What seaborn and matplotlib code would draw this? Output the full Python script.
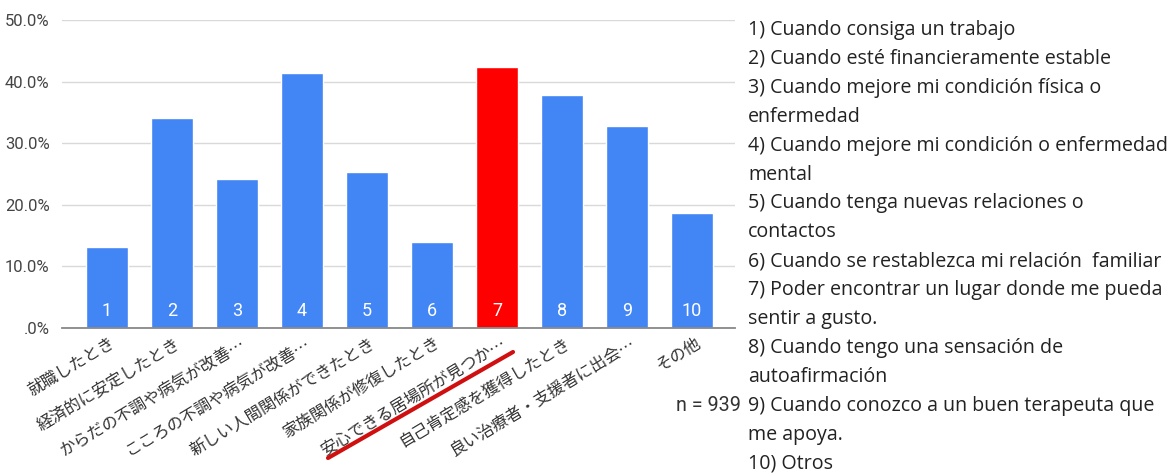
import pandas as pd
import seaborn as sns
import matplotlib.pyplot as plt
from matplotlib.lines import Line2D
from matplotlib.ticker import FuncFormatter
from matplotlib.transforms import ScaledTranslation

# Data
categories = ['就職したとき', '経済的に安定したとき', 'からだの不調や病気が改善…',
              'こころの不調や病気が改善…', '新しい人間関係ができたとき', '家族関係が修復したとき',
              '安心できる居場所が見つか…', '自己肯定感を獲得したとき', '良い治療者・支援者に出会…',
              'その他']
numbers = ['1', '2', '3', '4', '5', '6', '7', '8', '9', '10']
values = [13.1, 34.1, 24.2, 41.4, 25.3, 14.0, 42.4, 37.8, 32.8, 18.7]
highlight = '7'

notes = [
    '1) Cuando consiga un trabajo',
    '2) Cuando esté financieramente estable',
    '3) Cuando mejore mi condición física o',
    'enfermedad',
    '4) Cuando mejore mi condición o enfermedad',
    'mental',
    '5) Cuando tenga nuevas relaciones o',
    'contactos',
    '6) Cuando se restablezca mi relación  familiar',
    '7) Poder encontrar un lugar donde me pueda',
    'sentir a gusto.',
    '8) Cuando tengo una sensación de',
    'autoafirmación',
    '9) Cuando conozco a un buen terapeuta que',
    'me apoya.',
    '10) Otros',
]
n_label = 'n = 939'

df = pd.DataFrame({'num': numbers, 'label': categories, 'value': values})
palette = {k: ('#ff0000' if k == highlight else '#4285f4') for k in numbers}

sns.set_theme(style='white')
plt.rcParams['font.family'] = ['Noto Sans CJK JP', 'DejaVu Sans']

W, H = 1171, 476
fig = plt.figure(figsize=(W / 100, H / 100), dpi=100)
ax = fig.add_axes([62 / W, (H - 328) / H, (735 - 62) / W, (328 - 20) / H])

sns.barplot(data=df, x='num', y='value', hue='num', palette=palette,
            width=0.65, legend=False, ax=ax, saturation=1)

ax.set_ylim(0, 50)
ax.set_xlim(-0.69, 9.66)
ax.set_yticks([0, 10, 20, 30, 40, 50])
ax.yaxis.set_major_formatter(FuncFormatter(lambda v, p: '.0%' if v == 0 else f'{v:.1f}%'))
ax.grid(axis='y', color='#d9d9d9', linewidth=1)
ax.set_axisbelow(True)
for s in ['top', 'right', 'left']:
    ax.spines[s].set_visible(False)
ax.spines['bottom'].set_color('#888888')
ax.spines['bottom'].set_linewidth(1.3)
ax.set_xlabel('')
ax.set_ylabel('')

ax.tick_params(axis='y', length=0, pad=9, labelsize=12, labelcolor='#444444')
for t in ax.get_yticklabels():
    t.set_family(['Roboto', 'DejaVu Sans'])

ax.set_xticks(range(len(categories)))
ax.set_xticklabels(categories, rotation=31, ha='right', va='center',
                   rotation_mode='anchor', fontsize=11.8, color='#333333')
ax.tick_params(axis='x', length=0, pad=10)
shift = ScaledTranslation(7 / 100, 0, fig.dpi_scale_trans)
for t in ax.get_xticklabels():
    t.set_transform(t.get_transform() + shift)

# numbers inside the bars
for i, n in enumerate(numbers):
    ax.text(i, 1.3, n, ha='center', va='bottom', color='white',
            fontsize=13, family=['Roboto', 'DejaVu Sans'])

# red underline drawn under the highlighted label
fig.add_artist(Line2D([328 / W, 513 / W], [1 - 458 / H, 1 - 352 / H],
                      color='#d01010', linewidth=3, solid_capstyle='round'))

# side notes
y0, step = 30, 28.9
for k, line in enumerate(notes):
    fig.text(748 / W, 1 - (y0 + k * step) / H, line, ha='left', va='center',
             fontsize=14.1, color='#222222', family=['Open Sans', 'DejaVu Sans'])
fig.text(741 / W, 1 - (y0 + 13 * step) / H, n_label, ha='right', va='center',
         fontsize=14.2, color='#333333', family=['Roboto', 'DejaVu Sans'])

fig.savefig('out.png', dpi=100, facecolor='white')
